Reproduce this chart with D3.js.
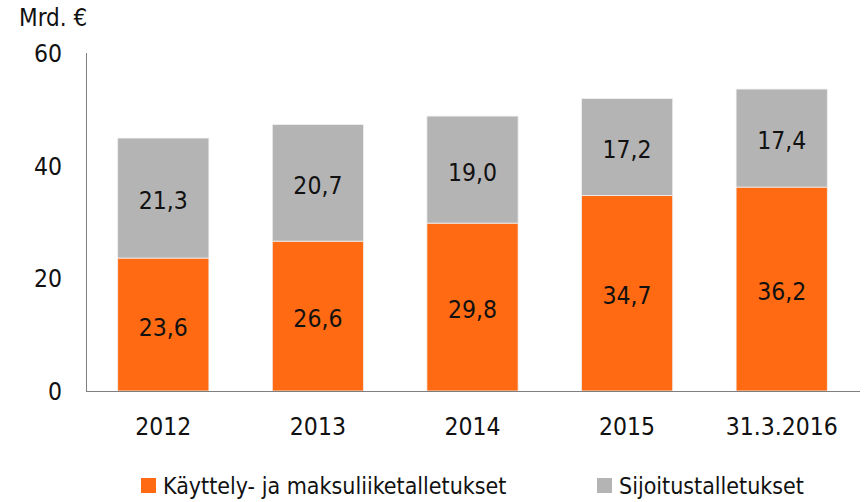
<!DOCTYPE html>
<html>
<head>
<meta charset="utf-8">
<title>Talletukset</title>
<script src="https://cdn.jsdelivr.net/npm/d3@7"></script>
<style>
  body { margin: 0; background: #fff; }
  svg text { font-family: "DejaVu Sans Condensed", "DejaVu Sans", sans-serif; fill: #111; }
</style>
</head>
<body>
<div id="chart"></div>
<script>
// data
var years = ["2012", "2013", "2014", "2015", "31.3.2016"];
var kaytto = [23.6, 26.6, 29.8, 34.7, 36.2];   // Käyttely- ja maksuliiketalletukset
var sijoitus = [21.3, 20.7, 19.0, 17.2, 17.4]; // Sijoitustalletukset
var yTicks = [0, 20, 40, 60];
var seriesNames = ["Käyttely- ja maksuliiketalletukset", "Sijoitustalletukset"];
var colors = ["#ff6a12", "#b4b4b4"];

var W = 865, H = 502;
var svg = d3.select("#chart").append("svg").attr("width", W).attr("height", H);

var x = d3.scaleBand().domain(years).range([86, 859]).paddingInner(0.41).paddingOuter(0.205);
var y = d3.scaleLinear().domain([0, 60]).range([391, 53]);

function fmt(v) { return v.toFixed(1).replace(".", ","); }

// stacked rows
var rows = years.map(function(yr, i) { return { year: yr, a: kaytto[i], b: sijoitus[i] }; });
var stack = d3.stack().keys(["a", "b"])(rows);

var groups = svg.selectAll("g.series").data(stack).enter().append("g")
  .attr("class", "series")
  .attr("fill", function(d, i) { return colors[i]; });

groups.selectAll("rect").data(function(d) { return d; }).enter().append("rect")
  .attr("x", function(d) { return x(d.data.year); })
  .attr("width", x.bandwidth())
  .attr("y", function(d) { return y(d[1]); })
  .attr("height", function(d) { return y(d[0]) - y(d[1]); })
  .attr("stroke", "#f0f0f0")
  .attr("stroke-width", 0.8);

groups.selectAll("text").data(function(d) { return d; }).enter().append("text")
  .attr("x", function(d) { return x(d.data.year) + x.bandwidth() / 2; })
  .attr("y", function(d) { return (y(d[0]) + y(d[1])) / 2 + 11; })
  .attr("text-anchor", "middle")
  .attr("font-size", "24.5px")
  .text(function(d) { return fmt(d[1] - d[0]); });

// axes
svg.append("line").attr("x1", 86.5).attr("x2", 86.5).attr("y1", y(60)).attr("y2", y(0))
  .attr("stroke", "#7f7f7f").attr("stroke-width", 1);
svg.append("line").attr("x1", 86).attr("x2", 860).attr("y1", 391.5).attr("y2", 391.5)
  .attr("stroke", "#7f7f7f").attr("stroke-width", 1);

svg.selectAll("text.ytick").data(yTicks).enter().append("text")
  .attr("class", "ytick")
  .attr("x", 62)
  .attr("y", function(d) { return y(d) + 9; })
  .attr("text-anchor", "end")
  .attr("font-size", "24.5px")
  .text(function(d) { return d; });

svg.selectAll("text.xtick").data(years).enter().append("text")
  .attr("class", "xtick")
  .attr("x", function(d) { return x(d) + x.bandwidth() / 2; })
  .attr("y", 435)
  .attr("text-anchor", "middle")
  .attr("font-size", "24.5px")
  .text(function(d) { return d; });

svg.append("text").attr("x", 19).attr("y", 26).attr("font-size", "24px").text("Mrd. €");

// legend
var legendX = [141, 597];
var leg = svg.selectAll("g.legend").data(seriesNames).enter().append("g")
  .attr("class", "legend")
  .attr("transform", function(d, i) { return "translate(" + legendX[i] + ",478)"; });
leg.append("rect").attr("width", 15).attr("height", 15)
  .attr("fill", function(d, i) { return colors[i]; });
leg.append("text").attr("x", 22).attr("y", 15.5).attr("font-size", "23px")
  .text(function(d) { return d; });
</script>
</body>
</html>
